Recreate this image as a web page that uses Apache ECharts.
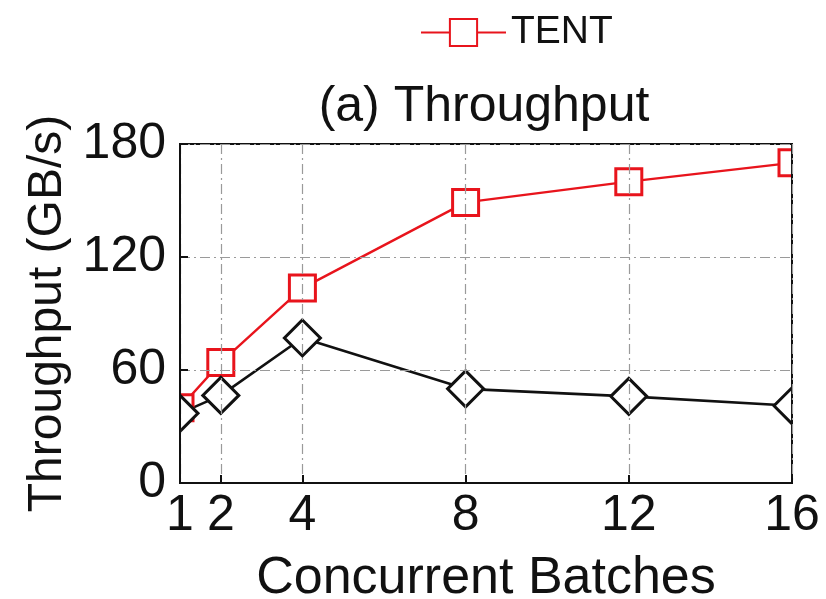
<!DOCTYPE html>
<html>
<head>
<meta charset="utf-8">
<script src="https://cdn.jsdelivr.net/npm/echarts@6/dist/echarts.min.js"></script>
<style>
  html, body { margin: 0; padding: 0; background: #fff; }
  #chart { width: 826px; height: 599px; }
</style>
</head>
<body>
<div id="chart"></div>
<script>
// Concurrent batches on the x axis (numeric scale)
const batches = [1, 2, 4, 8, 12, 16];
const xTicks = [1, 2, 4, 8, 12, 16];
const yTicks = [0, 60, 120, 180];

// Throughput in GB/s
const tentThroughput = [40, 64, 103.5, 149, 160, 170];
const baselineThroughput = [37, 46.5, 77, 50, 46, 41];

const FONT = 'Liberation Sans, Arial, Helvetica, sans-serif';
const RED = '#e8141c';
const BLACK = '#111111';

const GRID = { left: 180, right: 34, top: 144, bottom: 116 };
const W = 826, H = 599;

const pairs = (xs, ys) => xs.map((x, i) => [x, ys[i]]);

const chart = echarts.init(document.getElementById('chart'), null, { renderer: 'canvas' });

chart.setOption({
  backgroundColor: '#fff',
  animation: false,
  textStyle: { fontFamily: FONT },
  title: {
    text: '(a) Throughput',
    left: 479,
    top: 77,
    textAlign: 'center',
    textStyle: { fontFamily: FONT, fontSize: 50, fontWeight: 'normal', color: '#111' }
  },
  legend: {
    data: ['TENT'],
    left: 420,
    top: 13,
    padding: 0,
    itemWidth: 85,
    itemHeight: 34,
    itemGap: 10,
    textStyle: { fontFamily: FONT, fontSize: 39, color: '#111', padding: 0 }
  },
  grid: {
    left: GRID.left, right: GRID.right, top: GRID.top, bottom: GRID.bottom,
    show: true, borderColor: '#111', borderWidth: 2, z: 5,
    containLabel: false,
    outerBoundsMode: 'none'
  },
  xAxis: {
    type: 'value',
    min: 1,
    max: 16,
    z: 5,
    name: 'Concurrent Batches',
    nameLocation: 'middle',
    nameGap: 70,
    nameTextStyle: { fontFamily: FONT, fontSize: 52, color: '#111' },
    axisLine: { show: true, lineStyle: { color: '#111', width: 2 } },
    axisTick: { show: true, inside: true, length: 8, customValues: xTicks, lineStyle: { color: '#111', width: 2 } },
    axisLabel: { customValues: xTicks, fontFamily: FONT, fontSize: 50, color: '#111', margin: 8 },
    splitLine: { show: true, lineStyle: { color: '#9a9a9a', width: 1.2, type: [10, 4, 2, 4] } }
  },
  yAxis: {
    type: 'value',
    min: 0,
    max: 180,
    interval: 60,
    z: 5,
    name: 'Throughput (GB/s)',
    nameLocation: 'middle',
    nameGap: 106,
    nameTextStyle: { fontFamily: FONT, fontSize: 48, color: '#111' },
    axisLine: { show: true, lineStyle: { color: '#111', width: 2 } },
    axisTick: { show: true, inside: true, length: 8, lineStyle: { color: '#111', width: 2 } },
    axisLabel: { fontFamily: FONT, fontSize: 50, color: '#111', margin: 14 },
    splitLine: { show: true, lineStyle: { color: '#9a9a9a', width: 1.2, type: [10, 4, 2, 4] } }
  },
  // White strips beside the plot box so edge markers are cut at the frame
  graphic: [
    { type: 'rect', z: 3, silent: true,
      shape: { x: 0, y: GRID.top, width: GRID.left - 1, height: H - GRID.top - GRID.bottom },
      style: { fill: '#fff' } },
    { type: 'rect', z: 3, silent: true,
      shape: { x: W - GRID.right + 1, y: GRID.top, width: GRID.right, height: H - GRID.top - GRID.bottom },
      style: { fill: '#fff' } }
  ],
  series: [
    {
      name: 'TENT',
      type: 'line',
      z: 2,
      data: pairs(batches, tentThroughput),
      symbol: 'rect',
      symbolSize: 26,
      showAllSymbol: true,
      clip: false,
      lineStyle: { color: RED, width: 2.4 },
      itemStyle: { color: '#fff', borderColor: RED, borderWidth: 3 }
    },
    {
      name: 'Baseline',
      type: 'line',
      z: 2,
      data: pairs(batches, baselineThroughput),
      symbol: 'diamond',
      symbolSize: 36,
      showAllSymbol: true,
      clip: false,
      lineStyle: { color: BLACK, width: 2.6 },
      itemStyle: { color: '#fff', borderColor: BLACK, borderWidth: 3 }
    }
  ]
});
</script>
</body>
</html>
